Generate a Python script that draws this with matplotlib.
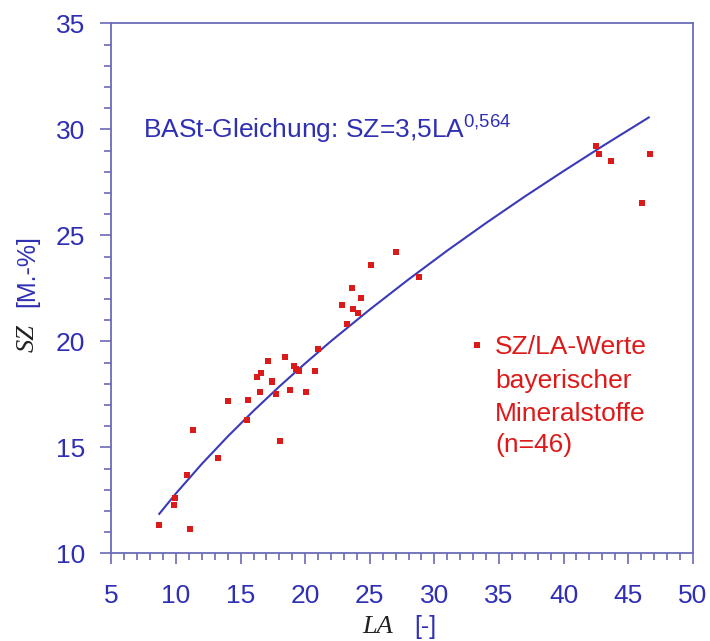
import numpy as np
import matplotlib.pyplot as plt
from matplotlib.ticker import MultipleLocator

# SZ/LA values of bavarian aggregates
la = [8.70, 9.84, 9.92, 10.82, 11.08, 11.29, 13.25, 14.05, 15.5, 15.6,
      16.25, 16.5, 16.6, 17.1, 17.4, 17.45, 17.74, 18.05, 18.44, 18.8,
      19.1, 19.3, 19.55, 20.04, 20.76, 21.02, 22.85, 23.2, 23.66, 23.73,
      24.1, 24.33, 25.08, 27.06, 28.84, 42.5, 42.76, 43.69, 46.04, 46.66]
sz = [11.32, 12.28, 12.62, 13.68, 11.13, 15.83, 14.51, 17.18, 16.29, 17.23,
      18.30, 17.59, 18.52, 19.08, 18.09, 18.15, 17.50, 15.31, 19.25, 17.70,
      18.83, 18.68, 18.60, 17.61, 18.62, 19.62, 21.70, 20.82, 22.50, 21.52,
      21.35, 22.04, 23.61, 24.21, 23.02, 29.21, 28.83, 28.50, 26.51, 28.83]

# BASt curve SZ = 3,5 LA^0,564
curve_la = [8.7, 10, 12, 14, 16, 18, 20, 22, 25, 28, 31, 34, 37, 40, 43, 46.6]
curve_sz = [11.86, 12.83, 14.22, 15.51, 16.72, 17.87, 18.96, 20.01, 21.50,
            22.92, 24.28, 25.58, 26.83, 28.03, 29.20, 30.56]

blue = '#2f2fb4'
red = '#dd1a1a'
spine_col = '#6b6bb8'

plt.rcParams['font.family'] = ['Liberation Sans', 'DejaVu Sans']
plt.rcParams['mathtext.fontset'] = 'custom'
plt.rcParams['mathtext.rm'] = 'Liberation Sans'

fig = plt.figure(figsize=(7.1, 6.41), dpi=100)
ax = fig.add_axes([0.157, 0.1368, 0.8186, 0.8268])

ax.plot(curve_la, curve_sz, color='#3a3ab8', lw=1.5)
pts, = ax.plot(la, sz, 's', color=red, ms=5, mew=0, ls='none')

ax.set_xlim(5, 50)
ax.set_ylim(10, 35)
ax.xaxis.set_major_locator(MultipleLocator(5))
ax.xaxis.set_minor_locator(MultipleLocator(1))
ax.yaxis.set_major_locator(MultipleLocator(5))
ax.yaxis.set_minor_locator(MultipleLocator(1))

for s in ax.spines.values():
    s.set_color(spine_col)
    s.set_linewidth(1.3)
ax.tick_params(which='both', direction='out', color=spine_col, width=1.2)
ax.tick_params(which='major', length=8)
ax.tick_params(which='minor', length=5)
ax.tick_params(axis='y', which='major', labelsize=19, labelcolor=blue, pad=11)
ax.tick_params(axis='x', which='major', labelsize=19, labelcolor=blue, pad=14)

# equation text
fig.text(0.2014, 0.7847, r'BASt-Gleichung: SZ=3,5$\mathrm{LA}^{0{,}564}$',
         color=blue, fontsize=19, va='baseline')

# legend for the points
leg = ax.legend([pts], ['SZ/LA-Werte'], loc='center left',
                bbox_to_anchor=(0.6606, 0.458), bbox_transform=fig.transFigure,
                frameon=False, handlelength=0.6, handletextpad=0.38,
                borderpad=0, borderaxespad=0, fontsize=19, labelcolor=red,
                markerscale=0.8)
for line, y in zip(['bayerischer', 'Mineralstoffe', '(n=46)'],
                   [388, 421, 452]):
    fig.text(495 / 710, 1 - y / 641, line, color=red, fontsize=19,
             va='baseline')

# axis labels: italic serif symbol + blue unit
fig.text(0.039, 0.451, 'SZ', rotation=90, ha='center', va='bottom',
         family='Liberation Serif', style='italic', fontsize=19, color='#222222')
fig.text(0.039, 0.521, '[M.-%]', rotation=90, ha='center', va='bottom',
         fontsize=18, color=blue)
fig.text(0.532, 0.022, 'LA', ha='center', va='center',
         family='Liberation Serif', style='italic', fontsize=19, color='#222222')
fig.text(0.599, 0.022, '[-]', ha='center', va='center', fontsize=18, color=blue)

fig.savefig('out.png', dpi=100)
